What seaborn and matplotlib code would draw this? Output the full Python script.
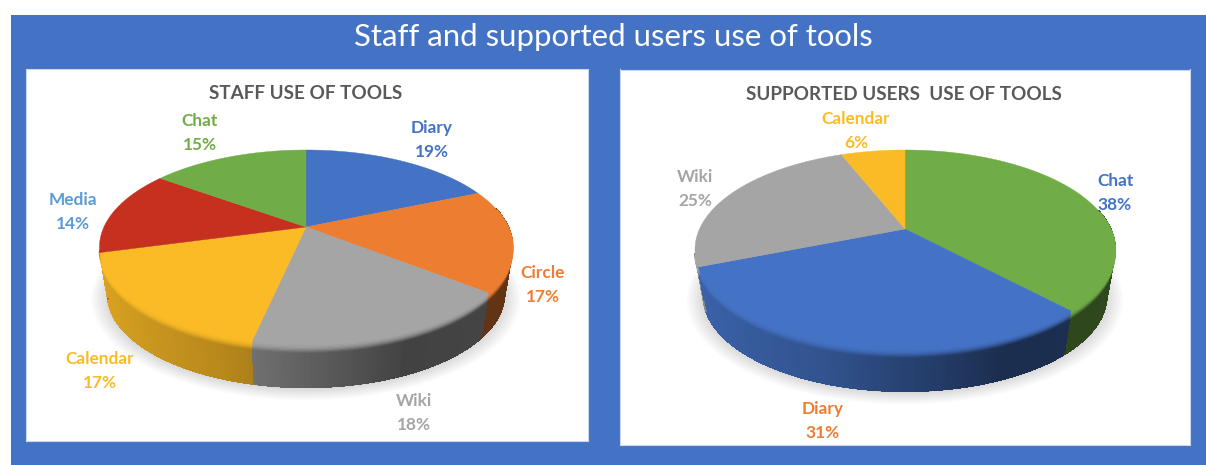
import numpy as np
import matplotlib
matplotlib.use("Agg")
import matplotlib.pyplot as plt
from matplotlib.patches import Rectangle
from matplotlib.collections import PolyCollection, LineCollection
from matplotlib.colors import to_rgb
import seaborn as sns

sns.set_theme(style="white")
plt.rcParams['font.family'] = ['Lato', 'DejaVu Sans']

# ---- data ----
main_title = "Staff and supported users use of tools"
staff_title = "STAFF USE OF TOOLS"
staff_labels = ["Diary", "Circle", "Wiki", "Calendar", "Media", "Chat"]
staff_values = [18.6, 17.0, 17.8, 17.4, 14.2, 15.0]
users_title = "SUPPORTED USERS  USE OF TOOLS"
users_labels = ["Chat", "Diary", "Wiki", "Calendar"]
users_values = [38, 31, 25, 6]

# ---- styles ----
BLUE, ORANGE, GRAY, YELLOW, RED, GREEN, SKY = (
    "#4472C4", "#ED7D31", "#A5A5A5", "#FBBB26", "#C5301F", "#70AD47", "#5B9BD5")
staff_colors = sns.color_palette([BLUE, ORANGE, GRAY, YELLOW, RED, GREEN])
staff_text = [BLUE, ORANGE, GRAY, YELLOW, SKY, GREEN]
staff_pos = [(432, 140), (543, 285), (414, 413), (100, 371), (73, 212), (200, 133)]
users_colors = sns.color_palette([GREEN, BLUE, GRAY, YELLOW])
users_text = [BLUE, ORANGE, GRAY, YELLOW]
users_pos = [(1115, 193), (823, 421), (695, 189), (856, 131)]

W, H = 1206, 465
fig = plt.figure(figsize=(W / 100, H / 100), dpi=100, facecolor="white")
fig.add_artist(Rectangle((11 / W, 0), 1, 1 - 15 / H, transform=fig.transFigure,
                         facecolor="#4472C4", edgecolor="none", zorder=-5))
fig.text(613 / W, 1 - 37 / H, main_title, color="white", fontsize=22.4,
         ha="center", va="center")

PERSP = 0.206


def panel(box):
    x0, y0, x1, y1 = box
    ax = fig.add_axes([x0 / W, 1 - y1 / H, (x1 - x0) / W, (y1 - y0) / H])
    ax.set_xlim(x0, x1)
    ax.set_ylim(y1, y0)
    ax.set_xticks([])
    ax.set_yticks([])
    ax.set_facecolor("white")
    for s in ax.spines.values():
        s.set_color("#C9D6EE")
        s.set_linewidth(0.8)
    return ax


def hidden(theta):
    # back of the disc, and the sliver left of the visible front wall
    return (np.cos(theta) > 0.2) | ((np.sin(theta) < 0) & (np.cos(theta) > -0.25))


def draw_pie(ax, values, colors, text_cols, labels, pos, title, title_xy, title_size,
             cx, cy, rx, top_up, drop):
    B = top_up * (1 + PERSP)
    A = rx * np.sqrt(1 - PERSP ** 2)

    def proj(theta, t=0.0, r=1.0):
        X, Y = r * np.sin(theta), r * np.cos(theta)
        w = 1 + PERSP * Y
        s = 1 - 0.04 * t
        return cx + s * A * X / w, cy + drop * t - s * B * Y / w

    # soft shadow beneath the disc
    ring = np.linspace(0, 2 * np.pi, 180)
    for g in np.linspace(1.08, 1.0, 10):
        sx, sy = proj(ring, 1.03, g)
        ax.fill(sx, sy, color="#000000", alpha=0.014, lw=0, zorder=1)

    fr = np.asarray(values, float) / np.sum(values)
    edges = np.concatenate([[0], np.cumsum(fr)]) * 2 * np.pi

    # wall: vertical slats whose shade runs from left to right
    polys, cols, segs, depth = [], [], [], []
    for i, col in enumerate(colors):
        n = max(3, int(np.degrees(edges[i + 1] - edges[i])))
        th = np.linspace(edges[i], edges[i + 1], n + 1)
        base = np.array(to_rgb(col))
        for a, b in zip(th[:-1], th[1:]):
            mid = (a + b) / 2
            if hidden(mid):
                continue
            shade = np.interp(np.sin(mid), [-1, -0.3, 0.4, 1], [0.88, 0.72, 0.40, 0.42])
            xa0, ya0 = proj(a)
            xb0, yb0 = proj(b)
            xa1, ya1 = proj(a, 1)
            xb1, yb1 = proj(b, 1)
            polys.append([(xa0, ya0), (xb0, yb0), (xb1, yb1), (xa1, ya1)])
            segs.append([(xa1, ya1), (xb1, yb1)])
            cols.append(np.clip(base * shade, 0, 1))
            depth.append(-np.cos(mid))
    order = np.argsort(depth)
    ordered = [cols[j] for j in order]
    ax.add_collection(PolyCollection([polys[j] for j in order], facecolors=ordered,
                                     edgecolors=ordered, linewidths=0.7,
                                     antialiaseds=False, zorder=2))
    ax.add_collection(LineCollection([segs[j] for j in order], colors=ordered,
                                     linewidths=1.0, zorder=2.1))

    # rounded bevel: bright bands fading down from the rim of each slice
    for i, col in enumerate(colors):
        th = np.linspace(edges[i], edges[i + 1], 120)
        th = th[~hidden(th)]
        if th.size < 2:
            continue
        for t, alpha in zip(np.linspace(0.18, 0.01, 7), np.linspace(0.12, 1.0, 7)):
            x, y = proj(th, t)
            ax.plot(x, y, color=col, lw=1.8, alpha=alpha, solid_capstyle="butt", zorder=2.5)

    # top surface
    for i, col in enumerate(colors):
        th = np.linspace(edges[i], edges[i + 1], 120)
        x, y = proj(th)
        ax.fill(np.r_[cx, x], np.r_[cy, y], facecolor=col, edgecolor=col, lw=0.3, zorder=3)

    for (lx, ly), lab, v, tc in zip(pos, labels, values, text_cols):
        ax.text(lx, ly, f"{lab}\n{v:.0f}%", color=tc, fontsize=12.4, fontweight="bold",
                ha="center", va="center", linespacing=1.62, zorder=5)
    ax.text(title_xy[0], title_xy[1], title, color="#595959", fontsize=title_size,
            fontweight="bold", ha="center", va="center", zorder=5)


ax1 = panel((26, 69.5, 588, 440.5))
draw_pie(ax1, staff_values, staff_colors, staff_text, staff_labels, staff_pos,
         staff_title, (306, 94), 13.6, 306, 227, 206.5, 77, 48)
ax2 = panel((620, 69.5, 1189.5, 445))
draw_pie(ax2, users_values, users_colors, users_text, users_labels, users_pos,
         users_title, (904, 94), 13.6, 905, 229, 210, 79, 47)

fig.savefig("out.png", dpi=100, facecolor="white")
